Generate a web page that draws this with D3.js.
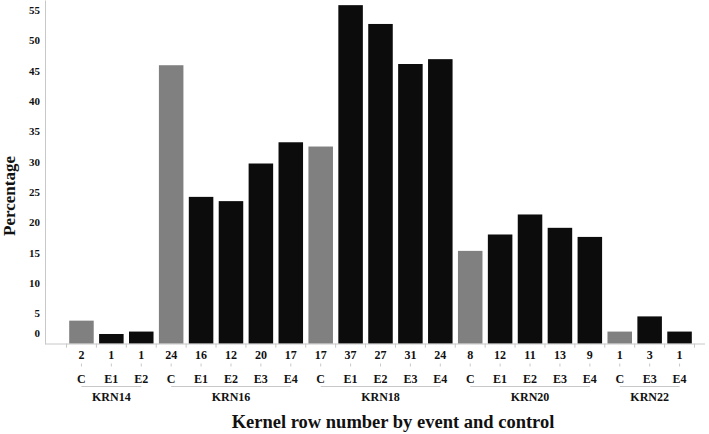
<!DOCTYPE html>
<html>
<head>
<meta charset="utf-8">
<script src="https://cdn.jsdelivr.net/npm/d3@7"></script>
<style>
  html, body { margin: 0; padding: 0; background: #fff; }
  svg { display: block; }
  text { font-family: "Liberation Serif", "Times New Roman", serif; font-weight: bold; fill: #111; }
</style>
</head>
<body>
<svg id="chart" width="709" height="434"></svg>
<script>
// ---- data ----
const groups = ["KRN14", "KRN16", "KRN18", "KRN20", "KRN22"];
const groupOf = ["KRN14","KRN14","KRN14",
                 "KRN16","KRN16","KRN16","KRN16","KRN16",
                 "KRN18","KRN18","KRN18","KRN18","KRN18",
                 "KRN20","KRN20","KRN20","KRN20","KRN20",
                 "KRN22","KRN22","KRN22"];
const categories = ["C","E1","E2",
                    "C","E1","E2","E3","E4",
                    "C","E1","E2","E3","E4",
                    "C","E1","E2","E3","E4",
                    "C","E3","E4"];
const counts = [2,1,1, 24,16,12,20,17, 17,37,27,31,24, 8,12,11,13,9, 1,3,1];
const percentages = [3.8,1.6,2.0, 45.9,24.2,23.5,29.7,33.2, 32.5,55.8,52.7,46.1,46.9,
                     15.3,18.0,21.3,19.1,17.6, 2.0,4.5,2.0];
const yTicks = [0,5,10,15,20,25,30,35,40,45,50,55];

// ---- layout ----
const svg = d3.select("#chart");
const axisX = 45, baseY = 343.7, plotRight = 705;
const idx = d3.range(categories.length);

const x = d3.scaleBand().domain(idx).range([66.5, 694.5])
  .paddingInner(0.18).paddingOuter(0.09);
const y = d3.scaleLinear().domain([0, 56.65]).range([baseY, 0]);

const gridCol = "#c8c8c8";

// bars
svg.append("g").selectAll("rect").data(idx).join("rect")
  .attr("x", i => x(i))
  .attr("width", x.bandwidth())
  .attr("y", i => y(percentages[i]))
  .attr("height", i => baseY - y(percentages[i]))
  .attr("fill", i => categories[i] === "C" ? "#808080" : "#0c0c0c");

// y axis
const yAxis = svg.append("g").attr("transform", `translate(${axisX},0)`)
  .call(d3.axisLeft(y).tickValues(yTicks).tickSize(0).tickPadding(5));
yAxis.select(".domain").attr("stroke", gridCol).attr("stroke-width", 1);
yAxis.selectAll(".tick text")
  .style("font-family", '"Liberation Serif", serif')
  .style("font-weight", "bold")
  .style("font-size", "11px")
  .attr("fill", "#111")
  .attr("dy", d => d === 0 ? "-0.68em" : "0.32em");

// baseline
svg.append("line")
  .attr("x1", axisX).attr("x2", plotRight)
  .attr("y1", baseY + 0.3).attr("y2", baseY + 0.3)
  .attr("stroke", gridCol).attr("stroke-width", 1);

// band boundary ticks
const step = x.step();
const boundaries = d3.range(categories.length + 1).map(i => x(0) - x.paddingInner() * step / 2 + i * step);
svg.append("g").selectAll("line").data(boundaries).join("line")
  .attr("x1", d => d).attr("x2", d => d)
  .attr("y1", baseY).attr("y2", baseY + 4)
  .attr("stroke", gridCol);

const cx = i => x(i) + x.bandwidth() / 2;

// count labels
svg.append("g").selectAll("text").data(idx).join("text")
  .attr("x", cx).attr("y", 358.5)
  .attr("text-anchor", "middle").style("font-size", "12px")
  .text(i => counts[i]);

// small ticks between count and category
svg.append("g").selectAll("line").data(idx).join("line")
  .attr("x1", cx).attr("x2", cx)
  .attr("y1", 363.5).attr("y2", 366.5)
  .attr("stroke", gridCol);

// category labels
svg.append("g").selectAll("text").data(idx).join("text")
  .attr("x", cx).attr("y", 382.5)
  .attr("text-anchor", "middle").style("font-size", "12px")
  .text(i => categories[i]);

// group brackets and labels
groups.forEach(g => {
  const members = idx.filter(i => groupOf[i] === g);
  const x0 = cx(members[0]), x1 = cx(members[members.length - 1]);
  svg.append("line")
    .attr("x1", x0).attr("x2", x1)
    .attr("y1", 386.5).attr("y2", 386.5)
    .attr("stroke", gridCol);
  svg.append("text")
    .attr("x", (x0 + x1) / 2).attr("y", 400.5)
    .attr("text-anchor", "middle").style("font-size", "12px")
    .text(g);
});

// axis titles
svg.append("text")
  .attr("x", 393).attr("y", 428)
  .attr("text-anchor", "middle").style("font-size", "18.5px")
  .text("Kernel row number by event and control");

svg.append("text")
  .attr("transform", "translate(15,196) rotate(-90)")
  .attr("text-anchor", "middle").style("font-size", "17px")
  .text("Percentage");
</script>
</body>
</html>
